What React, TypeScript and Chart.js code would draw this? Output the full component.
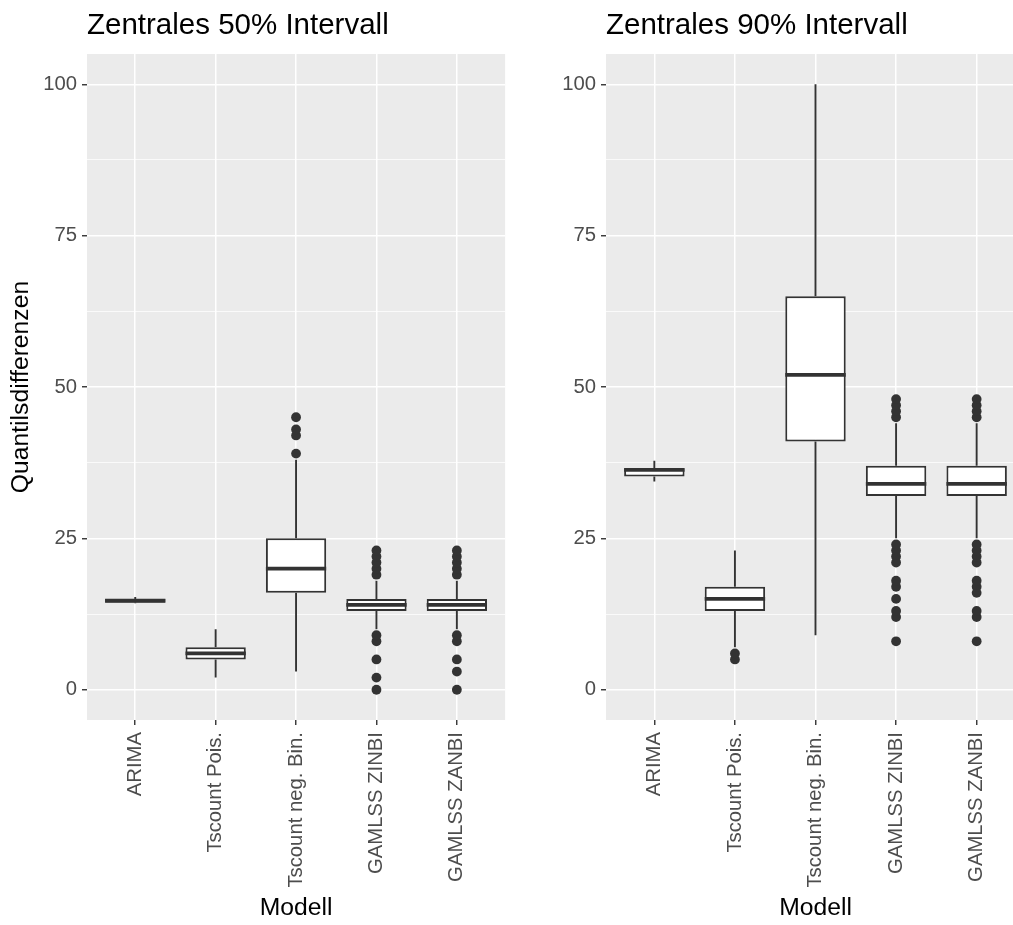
import React, { useEffect, useRef } from 'react';
import { Chart, registerables } from 'chart.js';

Chart.register(...registerables);

const FONT = '"Liberation Sans", Arial, Helvetica, sans-serif';

const CATEGORIES = ['ARIMA', 'Tscount Pois.', 'Tscount neg. Bin.', 'GAMLSS ZINBI', 'GAMLSS ZANBI'];
const X_TICKS = [0, 1, 2, 3, 4];
const Y_TICKS = [0, 12.5, 25, 37.5, 50, 62.5, 75, 87.5, 100];
const Y_MAJOR = [0, 25, 50, 75, 100];

// Zentrales 50% Intervall
const P50_LOW = [14.3, 2, 3, 10, 10];
const P50_Q1 = [14.4, 5, 16, 13, 13];
const P50_MED = [14.7, 6, 20, 14, 14];
const P50_Q3 = [15.0, 7, 25, 15, 15];
const P50_HIGH = [15.3, 10, 38, 18, 18];
const P50_OUT_ARIMA: number[] = [];
const P50_OUT_POIS: number[] = [];
const P50_OUT_NEGBIN = [39, 42, 43, 45];
const P50_OUT_ZINBI = [0, 2, 5, 8, 9, 19, 20, 21, 22, 23];
const P50_OUT_ZANBI = [0, 3, 5, 8, 9, 19, 20, 21, 22, 23];

// Zentrales 90% Intervall
const P90_LOW = [34.4, 7, 9, 25, 25];
const P90_Q1 = [35.2, 13, 41, 32, 32];
const P90_MED = [36.3, 15, 52, 34, 34];
const P90_Q3 = [36.6, 17, 65, 37, 37];
const P90_HIGH = [37.8, 23, 100, 44, 44];
const P90_OUT_ARIMA: number[] = [];
const P90_OUT_POIS = [5, 6];
const P90_OUT_NEGBIN: number[] = [];
const P90_OUT_ZINBI = [8, 12, 13, 15, 17, 18, 21, 22, 23, 24, 45, 46, 47, 48];
const P90_OUT_ZANBI = [8, 12, 13, 16, 17, 18, 21, 22, 23, 24, 45, 46, 47, 48];

type PanelData = {
  title: string;
  low: number[];
  q1: number[];
  med: number[];
  q3: number[];
  high: number[];
  outliers: number[][];
};

const PANEL_50: PanelData = {
  title: 'Zentrales 50% Intervall',
  low: P50_LOW, q1: P50_Q1, med: P50_MED, q3: P50_Q3, high: P50_HIGH,
  outliers: [P50_OUT_ARIMA, P50_OUT_POIS, P50_OUT_NEGBIN, P50_OUT_ZINBI, P50_OUT_ZANBI],
};
const PANEL_90: PanelData = {
  title: 'Zentrales 90% Intervall',
  low: P90_LOW, q1: P90_Q1, med: P90_MED, q3: P90_Q3, high: P90_HIGH,
  outliers: [P90_OUT_ARIMA, P90_OUT_POIS, P90_OUT_NEGBIN, P90_OUT_ZINBI, P90_OUT_ZANBI],
};

const INK = '#333333';

const boxExtras = {
  id: 'boxExtras',
  beforeDraw(chart: any) {
    const { ctx, chartArea } = chart;
    ctx.save();
    ctx.fillStyle = '#EBEBEB';
    ctx.fillRect(chartArea.left, chartArea.top, chartArea.right - chartArea.left, chartArea.bottom - chartArea.top);
    ctx.restore();
  },
  beforeDatasetsDraw(chart: any, _args: any, opts: any) {
    const { ctx } = chart;
    const p: PanelData = opts.panel;
    const xs = chart.scales.x;
    const ys = chart.scales.y;
    ctx.save();
    ctx.strokeStyle = INK;
    ctx.lineWidth = 1.9;
    p.low.forEach((lo, i) => {
      const x = xs.getPixelForValue(i);
      ctx.beginPath();
      ctx.moveTo(x, ys.getPixelForValue(lo));
      ctx.lineTo(x, ys.getPixelForValue(p.q1[i]));
      ctx.moveTo(x, ys.getPixelForValue(p.q3[i]));
      ctx.lineTo(x, ys.getPixelForValue(p.high[i]));
      ctx.stroke();
    });
    ctx.restore();
  },
  afterDatasetsDraw(chart: any, _args: any, opts: any) {
    const { ctx } = chart;
    const p: PanelData = opts.panel;
    const ys = chart.scales.y;
    const meta = chart.getDatasetMeta(0);
    ctx.save();
    ctx.strokeStyle = INK;
    ctx.lineWidth = 3.8;
    p.med.forEach((m, i) => {
      const bar = meta.data[i];
      const y = ys.getPixelForValue(m);
      ctx.beginPath();
      ctx.moveTo(bar.x - bar.width / 2, y);
      ctx.lineTo(bar.x + bar.width / 2, y);
      ctx.stroke();
    });
    ctx.restore();
  },
  afterDraw(chart: any, _args: any, opts: any) {
    const { ctx, chartArea } = chart;
    ctx.save();
    ctx.fillStyle = '#000000';
    ctx.font = `29.5px ${FONT}`;
    ctx.textAlign = 'left';
    ctx.textBaseline = 'alphabetic';
    ctx.fillText(opts.panel.title, chartArea.left, 34);
    ctx.restore();
  },
};

function makeChart(canvas: HTMLCanvasElement, panel: PanelData, yTitle: string | null, yWidth: number, padRight: number) {
  const boxes = CATEGORIES.map((_, i) => ({ x: i, y: [panel.q1[i], panel.q3[i]] }));
  const points: { x: number; y: number }[] = [];
  panel.outliers.forEach((arr, i) => arr.forEach((v) => points.push({ x: i, y: v })));

  return new Chart(canvas, {
    type: 'bar',
    data: {
      datasets: [
        {
          type: 'bar',
          data: boxes as any,
          backgroundColor: '#FFFFFF',
          borderColor: INK,
          borderWidth: 2,
          borderSkipped: false,
          barPercentage: 0.75,
          categoryPercentage: 1,
        } as any,
        {
          type: 'scatter',
          data: points,
          backgroundColor: INK,
          borderColor: INK,
          borderWidth: 0,
          pointRadius: 4.9,
          pointHoverRadius: 4.9,
        } as any,
      ],
    },
    options: {
      responsive: false,
      animation: false,
      events: [],
      layout: { padding: { top: 54, right: padRight, bottom: 0, left: 0 } },
      plugins: {
        legend: { display: false },
        tooltip: { enabled: false },
        title: { display: false },
        boxExtras: { panel },
      } as any,
      scales: {
        x: {
          type: 'linear',
          min: -0.6,
          max: 4.6,
          offset: false,
          afterBuildTicks: (s: any) => {
            s.ticks = X_TICKS.map((v) => ({ value: v }));
          },
          afterFit: (s: any) => {
            s.height = 205;
          },
          ticks: {
            autoSkip: false,
            minRotation: 90,
            maxRotation: 90,
            padding: 7,
            color: '#4D4D4D',
            font: { family: FONT, size: 20.3 },
            callback: (v: any) => CATEGORIES[Number(v)] ?? '',
          },
          grid: {
            offset: false,
            color: '#FFFFFF',
            lineWidth: 1.5,
            tickColor: INK,
            tickLength: 5,
            tickWidth: 1.4,
          },
          border: { display: false },
          title: {
            display: true,
            text: 'Modell',
            color: '#000000',
            font: { family: FONT, size: 24.7 },
            padding: { top: 0, bottom: 2 },
          },
        } as any,
        y: {
          type: 'linear',
          min: -5,
          max: 105,
          afterBuildTicks: (s: any) => {
            s.ticks = Y_TICKS.map((v) => ({ value: v }));
          },
          afterFit: (s: any) => {
            s.width = yWidth;
          },
          ticks: {
            autoSkip: false,
            padding: 5,
            color: '#4D4D4D',
            font: { family: FONT, size: 20.3 },
            callback: (v: any) => (Y_MAJOR.includes(Number(v)) ? String(v) : ''),
          },
          grid: {
            color: '#FFFFFF',
            lineWidth: (c: any) => (Y_MAJOR.includes(c.tick?.value) ? 1.5 : 0.75),
            tickColor: (c: any) => (Y_MAJOR.includes(c.tick?.value) ? INK : 'rgba(0,0,0,0)'),
            tickLength: 5,
            tickWidth: 1.4,
          },
          border: { display: false },
          title: {
            display: !!yTitle,
            text: yTitle ?? '',
            color: '#000000',
            font: { family: FONT, size: 24.7 },
            padding: { top: 6, bottom: 0 },
          },
        } as any,
      },
    },
    plugins: [boxExtras as any],
  });
}

function Panel(props: { panel: PanelData; left: number; width: number; yTitle: string | null; yWidth: number; padRight: number }) {
  const ref = useRef<HTMLCanvasElement | null>(null);
  useEffect(() => {
    if (!ref.current) return;
    const chart = makeChart(ref.current, props.panel, props.yTitle, props.yWidth, props.padRight);
    return () => chart.destroy();
  }, []);
  return (
    <canvas
      ref={ref}
      width={props.width}
      height={925}
      style={{ position: 'absolute', left: props.left, top: 0, width: props.width, height: 925, display: 'block' }}
    />
  );
}

export default function App() {
  return (
    <div style={{ position: 'absolute', left: 0, top: 0, width: 1013, height: 925, overflow: 'hidden', background: '#FFFFFF' }}>
      <Panel panel={PANEL_50} left={0} width={510} yTitle="Quantilsdifferenzen" yWidth={87} padRight={4} />
      <Panel panel={PANEL_90} left={510} width={520} yTitle={null} yWidth={96} padRight={5} />
    </div>
  );
}
